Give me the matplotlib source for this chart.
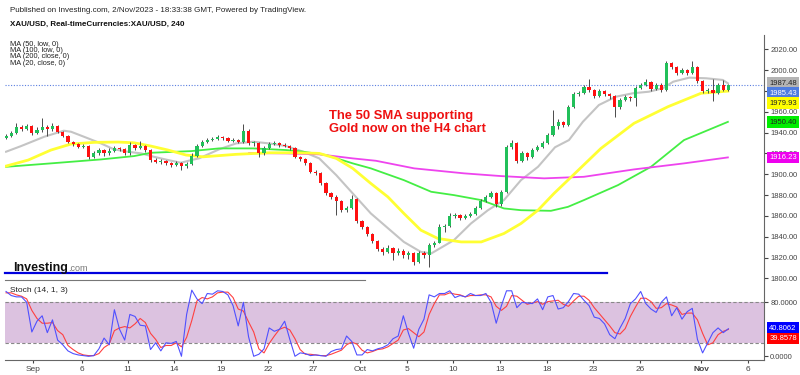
import matplotlib.pyplot as plt
from matplotlib.lines import Line2D
from matplotlib.transforms import blended_transform_factory

plt.rcParams['font.family'] = ['Liberation Sans', 'DejaVu Sans']

# XAU/USD 4H candles (open of each bar = previous close)
first_open = 1935
closes = [1937, 1940, 1945, 1944, 1946, 1940, 1943, 1945, 1944, 1946,
          1941, 1937, 1931, 1929, 1926, 1927, 1917, 1920, 1923, 1920,
          1922, 1925, 1924, 1920, 1928, 1925, 1927, 1923, 1914, 1912,
          1913, 1911, 1909, 1911, 1908, 1910, 1918, 1927, 1931, 1933,
          1934, 1936, 1935, 1932, 1933, 1931, 1942, 1930, 1930, 1920,
          1925, 1929, 1930, 1928, 1927, 1925, 1917, 1915, 1911, 1902,
          1901, 1892, 1882, 1878, 1874, 1866, 1868, 1876, 1855, 1849,
          1843, 1836, 1828, 1825, 1829, 1824, 1826, 1822, 1824, 1816,
          1824, 1822, 1832, 1834, 1849, 1850, 1860, 1861, 1858, 1860,
          1862, 1868, 1874, 1878, 1882, 1871, 1883, 1926, 1930, 1913,
          1920, 1917, 1923, 1926, 1930, 1938, 1946, 1950, 1947, 1965,
          1977, 1978, 1984, 1981, 1975, 1980, 1977, 1975, 1965, 1971,
          1974, 1973, 1983, 1986, 1989, 1982, 1986, 1981, 2007, 2003,
          1997, 2000, 1997, 2003, 1990, 1980, 1981, 1978, 1986, 1981, 1985.43]
highs = [1939, 1942, 1949, 1947, 1948, 1947, 1945, 1954, 1947, 1949,
         1947, 1942, 1938, 1932, 1930, 1929, 1928, 1922, 1925, 1924,
         1925, 1927, 1926, 1925, 1931, 1929, 1932, 1928, 1924, 1916,
         1915, 1914, 1912, 1913, 1912, 1912, 1920, 1929, 1933, 1935,
         1936, 1938, 1937, 1936, 1935, 1934, 1948, 1944, 1932, 1931,
         1927, 1931, 1932, 1931, 1930, 1928, 1926, 1918, 1916, 1912,
         1904, 1902, 1893, 1883, 1880, 1875, 1870, 1880, 1877, 1856,
         1850, 1844, 1837, 1830, 1832, 1830, 1829, 1828, 1826, 1825,
         1826, 1826, 1834, 1836, 1852, 1852, 1863, 1863, 1862, 1862,
         1864, 1870, 1876, 1880, 1884, 1883, 1885, 1928, 1933, 1931,
         1922, 1921, 1925, 1928, 1932, 1940, 1962, 1953, 1951, 1967,
         1979, 1980, 1986, 1992, 1982, 1982, 1981, 1978, 1976, 1973,
         1976, 1975, 1985, 1988, 1992, 1990, 1988, 1988, 2009, 2008,
         2004, 2002, 2001, 2009, 2004, 1991, 1983, 1992, 1988, 1991, 1987]
lows = [1934, 1936, 1939, 1942, 1943, 1938, 1939, 1941, 1937, 1942,
        1940, 1936, 1930, 1927, 1925, 1925, 1915, 1916, 1919, 1918,
        1919, 1921, 1922, 1919, 1919, 1923, 1924, 1921, 1912, 1911,
        1910, 1909, 1907, 1908, 1904, 1906, 1909, 1917, 1926, 1930,
        1932, 1933, 1933, 1931, 1931, 1930, 1930, 1928, 1927, 1917,
        1919, 1924, 1928, 1926, 1926, 1923, 1916, 1913, 1909, 1901,
        1899, 1890, 1880, 1876, 1861, 1864, 1864, 1867, 1853, 1847,
        1841, 1834, 1826, 1822, 1824, 1818, 1822, 1820, 1819, 1813,
        1815, 1820, 1811, 1830, 1834, 1845, 1849, 1858, 1856, 1857,
        1859, 1861, 1867, 1873, 1877, 1869, 1870, 1882, 1924, 1911,
        1912, 1914, 1916, 1922, 1925, 1929, 1937, 1944, 1945, 1946,
        1964, 1975, 1977, 1979, 1973, 1974, 1975, 1972, 1955, 1963,
        1970, 1970, 1966, 1982, 1985, 1980, 1981, 1979, 1980, 2001,
        1995, 1996, 1995, 1996, 1988, 1978, 1978, 1970, 1977, 1980, 1980]

# moving averages (bar index, value)
ma20_idx = [0, 2.9, 7.4, 11.2, 12.6, 15.1, 18.4, 20.9, 23.6, 26.2, 28.7, 31.4, 33.9, 35.9,
            37.4, 41.3, 44.6, 47.9, 51.0, 54.3, 57.6, 60.7, 64.0, 67.2, 70.7, 77.1, 80.4,
            82.4, 86.8, 90.1, 93.4, 96.5, 99.8, 103.1, 106.4, 109.1, 111.8, 114.9, 118.2,
            121.5, 124.6, 127.3, 129.3, 132.4, 135.7, 138.9, 139.9]
ma20_val = [1921.7, 1927.1, 1936.1, 1941.9, 1940.9, 1936.1, 1929.7, 1924.0, 1921.7, 1920.1,
            1916.8, 1913.7, 1911.1, 1913.7, 1915.3, 1924.0, 1929.7, 1931.3, 1929.7, 1927.1,
            1921.7, 1915.3, 1899.2, 1881.6, 1862.4, 1835.0, 1825.4, 1823.9, 1836.7, 1852.7,
            1865.5, 1875.2, 1894.4, 1907.2, 1926.0, 1932.9, 1950.5, 1966.6, 1974.6, 1977.9,
            1979.4, 1982.7, 1989.0, 1992.9, 1992.3, 1990.7, 1987.48]
ma50_idx = [0, 4.3, 8.7, 12.6, 17.1, 21.7, 24.8, 28.1, 31.4, 34.9, 38.2, 44.6, 51.0, 56.2,
            60.7, 64.0, 67.2, 70.7, 74.0, 77.1, 80.4, 83.7, 88.2, 92.1, 96.5, 99.8, 103.1,
            106.2, 108.9, 115.3, 121.7, 128.3, 134.7, 139.9]
ma50_val = [1907.9, 1913.7, 1923.3, 1929.1, 1930.7, 1931.0, 1930.3, 1927.1, 1923.3, 1918.5,
            1916.8, 1919.2, 1920.7, 1920.7, 1920.1, 1915.3, 1905.7, 1891.2, 1878.3, 1862.4,
            1846.3, 1838.3, 1835.0, 1835.0, 1843.1, 1852.7, 1865.5, 1881.6, 1894.4, 1924.9,
            1949.0, 1965.0, 1977.9, 1979.93]
ma100_idx = [0, 8.7, 18.4, 24.8, 28.1, 35.9, 41.3, 47.9, 54.3, 57.6, 62.0, 67.2, 70.7, 77.1,
             82.4, 86.8, 92.1, 96.5, 99.8, 105.6, 108.9, 112.0, 118.6, 125.0, 131.4, 139.9]
ma100_val = [1907.2, 1910.5, 1914.3, 1917.5, 1920.7, 1922.3, 1924.9, 1924.9, 1923.3, 1921.7,
             1918.5, 1910.5, 1905.7, 1894.4, 1883.2, 1880.0, 1875.2, 1867.2, 1865.5, 1864.9,
             1868.7, 1875.2, 1889.6, 1907.2, 1932.9, 1950.40]
ma200_idx = [47.1, 54.3, 60.7, 67.2, 71.7, 79.1, 88.8, 95.9, 104.3, 112.0, 121.7, 131.4, 139.9]
ma200_val = [1920.4, 1920.1, 1919.2, 1915.3, 1913.0, 1905.7, 1900.9, 1898.3, 1896.1, 1897.6,
             1904.7, 1910.5, 1916.23]

# Stochastic (14, 1, 3)
stoch_k = [96, 90, 88, 88, 80, 36, 52, 60, 35, 54, 24, 17, 8, 4, 2, 1, 0, 1, 11, 27,
           17, 69, 40, 24, 62, 59, 46, 45, 10, 20, 8, 20, 19, 22, 0, 62, 98, 85, 78, 93,
           92, 97, 96, 91, 75, 45, 80, 29, 0, 3, 11, 42, 37, 40, 52, 25, 0, 5, 4, 1,
           2, 1, 0, 7, 10, 11, 30, 22, 2, 2, 10, 8, 11, 13, 17, 26, 30, 60, 34, 12,
           40, 55, 91, 88, 93, 93, 97, 87, 90, 88, 93, 90, 90, 93, 80, 49, 75, 97, 97, 72,
           80, 79, 78, 85, 69, 88, 90, 70, 72, 81, 93, 92, 83, 75, 58, 56, 48, 32, 26, 42,
           56, 78, 85, 96, 78, 70, 65, 80, 88, 60, 72, 55, 66, 71, 25, 5, 20, 35, 42, 35, 40.8062]
stoch_d = [94, 94, 91, 89, 85, 68, 56, 49, 49, 50, 38, 32, 16, 10, 5, 2, 1, 1, 4, 13,
           18, 38, 42, 44, 42, 48, 56, 50, 34, 25, 13, 16, 16, 20, 14, 28, 53, 82, 87, 85,
           88, 94, 95, 95, 87, 70, 67, 51, 36, 11, 5, 19, 30, 40, 43, 39, 26, 10, 3, 3,
           2, 1, 1, 3, 6, 9, 17, 21, 18, 9, 5, 7, 10, 11, 14, 19, 24, 39, 41, 35,
           29, 36, 62, 78, 91, 91, 94, 92, 91, 88, 90, 90, 91, 91, 88, 74, 68, 74, 90, 89,
           83, 77, 79, 81, 77, 81, 82, 83, 77, 74, 82, 89, 89, 83, 72, 63, 54, 45, 35, 33,
           41, 59, 73, 86, 86, 81, 71, 72, 78, 76, 73, 62, 64, 64, 54, 34, 17, 20, 32, 37, 39.8578]

tick_idx = [5.2, 14.7, 23.6, 32.6, 41.6, 50.8, 59.5, 68.6, 77.7, 86.6, 95.7, 104.8,
            113.8, 122.9, 134.7, 143.8]
tick_labels = ['Sep', '6', '11', '14', '19', '22', '27', 'Oct', '5', '10', '13', '18',
               '23', '26', 'Nov', '6']

price_ticks = list(range(1800, 2021, 20))
last_price = 1985.43
tag_texts = ['1987.48', '1985.43', '1979.93', '1950.40', '1916.23']
tag_colors = ['#b4b4b4', '#4f7de0', '#ffff00', '#00ee00', '#ee00ee']
tag_fg = ['#222222', 'white', '#222222', '#222222', 'white']
tag_y = [1987.5, 1977.9, 1968.3, 1950.0, 1916.0]

opens = [first_open] + closes[:-1]
idx = list(range(len(closes)))

W, H = 800, 375
fig = plt.figure(figsize=(8, 3.75), dpi=100)


def px(x0, y0, x1, y1):
    return [x0 / W, 1 - y1 / H, (x1 - x0) / W, (y1 - y0) / H]


ax = fig.add_axes(px(5, 35, 764, 280))
ax.set_xlim(-0.2, 146.9)
ax.set_ylim(1798.4, 2033.9)

ax.plot(ma20_idx, ma20_val, color='#c4c4c4', lw=1.5, zorder=2)
ax.plot(ma100_idx, ma100_val, color='#44ee44', lw=1.3, zorder=2)
ax.plot(ma200_idx, ma200_val, color='#ee44ee', lw=1.3, zorder=2)
ax.plot(ma50_idx, ma50_val, color='#ffff33', lw=2.0, zorder=2)

up = [c >= o for o, c in zip(opens, closes)]
body_col = ['#22c05a' if u else '#ff1010' for u in up]
ax.vlines(idx, lows, highs, color='#4a4a4a', lw=0.7, zorder=3)
ax.bar(idx, [max(abs(c - o), 0.7) for o, c in zip(opens, closes)],
       bottom=[min(o, c) for o, c in zip(opens, closes)],
       width=0.62, color=body_col, zorder=4)

ax.axhline(last_price, color='#5b7fe0', lw=0.8, ls=(0, (1, 1.5)), zorder=1)

ax.yaxis.tick_right()
ax.set_yticks(price_ticks)
# the 1980 label is hidden behind the value tags on the original
ax.set_yticklabels(['' if v == 1980 else '%.2f' % v for v in price_ticks])
ax.tick_params(axis='y', labelsize=5.5, colors='#444444', length=3, pad=1.5)
ax.set_xticks([])
for s in ['top', 'left', 'bottom']:
    ax.spines[s].set_visible(False)
ax.spines['right'].set_color('#666666')

tr = blended_transform_factory(ax.transAxes, ax.transData)
for t, bg, fg, y in zip(tag_texts, tag_colors, tag_fg, tag_y):
    ax.text(1.007, y, t, transform=tr, fontsize=5.5, color=fg, va='center', ha='left',
            bbox=dict(boxstyle='square,pad=0.3', fc=bg, ec='none'), zorder=10, clip_on=False)

ax.text(324 / 759, 1949.8, 'The 50 SMA supporting\nGold now on the H4 chart', transform=tr,
        color='#ee1111', fontsize=9.4, fontweight='bold', va='center', ha='left',
        linespacing=1.15)

# stochastic panel
sx = fig.add_axes(px(5, 280, 764, 360))
sx.set_xlim(-0.2, 146.9)
sx.set_ylim(-5.5, 113)
sx.axhspan(20, 80, color='#dcc2e0', lw=0, zorder=0)
sx.axhline(80, color='#888888', lw=0.8, ls=(0, (3, 2)), zorder=1)
sx.axhline(20, color='#888888', lw=0.8, ls=(0, (3, 2)), zorder=1)
sx.plot(idx, stoch_d, color='#ff4040', lw=0.8, zorder=2)
sx.plot(idx, stoch_k, color='#5050ff', lw=0.8, zorder=3)
sx.yaxis.tick_right()
sx.set_yticks([0, 80])
sx.set_yticklabels(['0.0000', '80.0000'])
sx.tick_params(axis='y', labelsize=5.5, colors='#444444', length=3, pad=1.5)
sx.set_xticks(tick_idx)
sx.set_xticklabels(tick_labels)
sx.tick_params(axis='x', labelsize=6, colors='#444444', length=2, pad=2)
for lab in sx.get_xticklabels():
    if lab.get_text() == 'Nov':
        lab.set_fontweight('bold')
for s in ['top', 'left']:
    sx.spines[s].set_visible(False)
sx.spines['right'].set_color('#666666')
sx.spines['bottom'].set_color('#666666')
sx.text(5 / 759, 0.875, 'Stoch (14, 1, 3)', transform=sx.transAxes, fontsize=6,
        color='#222222', va='center')
str_ = blended_transform_factory(sx.transAxes, sx.transData)
sx.text(1.007, 41.5, '40.8062', transform=str_, fontsize=5.5, color='white', va='center',
        bbox=dict(boxstyle='square,pad=0.3', fc='#0000ff', ec='none'), clip_on=False)
sx.text(1.007, 26.5, '39.8578', transform=str_, fontsize=5.5, color='white', va='center',
        bbox=dict(boxstyle='square,pad=0.3', fc='#ff0000', ec='none'), clip_on=False)

# separators and logo
fig.add_artist(Line2D([5 / W, 365 / W], [1 - 280 / H, 1 - 280 / H], color='#777777', lw=0.8))
fig.add_artist(Line2D([5 / W, 607 / W], [1 - 273 / H, 1 - 273 / H], color='#0000dd', lw=1.6))
fig.text(13 / W, 1 - 271 / H, 'Investing', fontsize=9, fontweight='bold', color='#111111',
         va='baseline')
fig.text(68 / W, 1 - 271 / H, '.com', fontsize=6.5, color='#777777', va='baseline')

# header
fig.text(10 / W, 1 - 10 / H, 'Published on Investing.com, 2/Nov/2023 - 18:33:38 GMT, Powered by TradingView.',
         fontsize=5.8, color='#222222', va='center')
fig.text(10 / W, 1 - 24 / H, 'XAU/USD, Real-timeCurrencies:XAU/USD, 240', fontsize=5.8,
         fontweight='bold', color='#111111', va='center')
for k, t in enumerate(['MA (50, low, 0)', 'MA (100, low, 0)', 'MA (200, close, 0)', 'MA (20, close, 0)']):
    fig.text(10 / W, 1 - (44.3 + 6.3 * k) / H, t, fontsize=5.3, color='#222222', va='center')

plt.savefig('out.png', dpi=100)
plt.close()
